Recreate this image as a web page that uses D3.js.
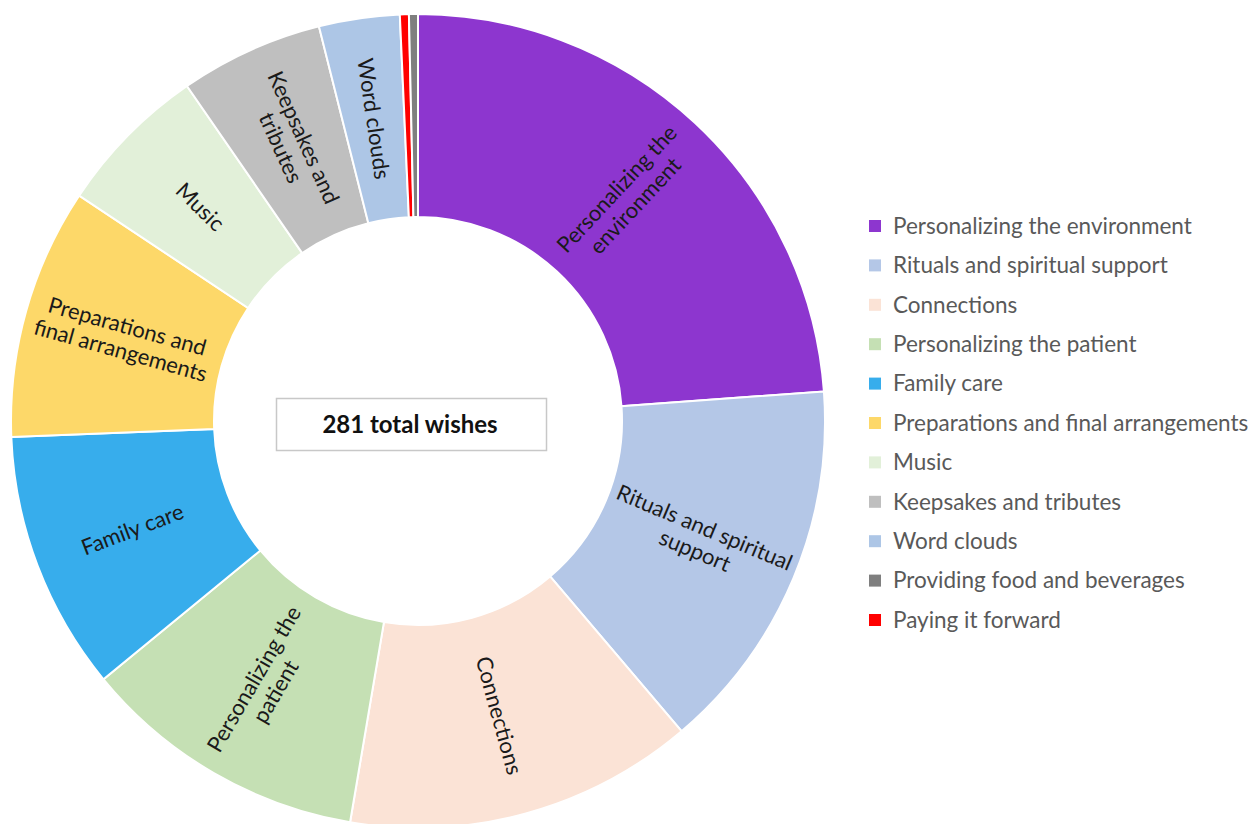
<!DOCTYPE html>
<html>
<head>
<meta charset="utf-8">
<script src="https://cdn.jsdelivr.net/npm/d3@7/dist/d3.min.js"></script>
<style>
  body { margin: 0; background: #fff; }
  svg { display: block; font-family: Lato, "Liberation Sans", sans-serif; }
</style>
</head>
<body>
<svg id="chart" width="1253" height="824"></svg>
<script>
// slices, in the order they run clockwise from 12 o'clock
const categories = [
  `Personalizing the environment`,
  `Rituals and spiritual support`,
  `Connections`,
  `Personalizing the patient`,
  `Family care`,
  `Preparations and final arrangements`,
  `Music`,
  `Keepsakes and tributes`,
  `Word clouds`,
  `Paying it forward`,
  `Providing food and beverages`
];
const wishes = [67, 42, 39, 32, 29, 28, 17, 16, 9, 1, 1];
const sliceColors = [
  `#8d36cf`, `#b4c7e7`, `#fbe3d6`, `#c5e0b4`, `#37adec`, `#fdd869`,
  `#e2f0d9`, `#bfbfbf`, `#adc6e6`, `#ff0000`, `#7f7f7f`
];
// wrapped labels inside the ring (none for the thin slices)
const sliceLabels = [
  [`Personalizing the`, `environment`],
  [`Rituals and spiritual`, `support`],
  [`Connections`],
  [`Personalizing the`, `patient`],
  [`Family care`],
  [`Preparations and`, `final arrangements`],
  [`Music`],
  [`Keepsakes and`, `tributes`],
  [`Word clouds`],
  [],
  []
];
const legendOrder = [
  `Personalizing the environment`,
  `Rituals and spiritual support`,
  `Connections`,
  `Personalizing the patient`,
  `Family care`,
  `Preparations and final arrangements`,
  `Music`,
  `Keepsakes and tributes`,
  `Word clouds`,
  `Providing food and beverages`,
  `Paying it forward`
];
const totalLabel = `${d3.sum(wishes)} total wishes`;

const svg = d3.select(`#chart`);
const cx = 418, cy = 421;
const outerR = 407, innerR = 204;

const color = d3.scaleOrdinal().domain(categories).range(sliceColors);

const pie = d3.pie().sort(null).value(d => d.value);
const arcs = pie(categories.map((c, i) => ({name: c, value: wishes[i], lines: sliceLabels[i]})));
const arc = d3.arc().innerRadius(innerR).outerRadius(outerR);

const g = svg.append(`g`).attr(`transform`, `translate(${cx},${cy})`);

g.selectAll(`path`)
  .data(arcs)
  .enter().append(`path`)
    .attr(`d`, arc)
    .attr(`fill`, d => color(d.data.name))
    .attr(`stroke`, `#fff`)
    .attr(`stroke-width`, 2);

// labels are turned along the radius, flipped on the left half
const lineH = 25;
g.selectAll(`text.slice`)
  .data(arcs.filter(d => d.data.lines.length))
  .enter().append(`text`)
    .attr(`class`, `slice`)
    .attr(`transform`, d => {
      const [x, y] = arc.centroid(d);
      const mid = (d.startAngle + d.endAngle) / 2 * 180 / Math.PI;
      const rot = mid < 180 ? mid - 90 : mid - 270;
      return `translate(${x},${y}) rotate(${rot})`;
    })
    .attr(`text-anchor`, `middle`)
    .attr(`font-size`, 22)
    .attr(`fill`, `#1a1a1a`)
    .each(function(d) {
      const n = d.data.lines.length;
      d3.select(this).selectAll(`tspan`)
        .data(d.data.lines)
        .enter().append(`tspan`)
          .attr(`x`, 0)
          .attr(`y`, (l, i) => (i - (n - 1) / 2) * lineH)
          .attr(`dy`, `0.35em`)
          .text(l => l);
    });

// centre box
svg.append(`rect`)
  .attr(`x`, 276.5).attr(`y`, 398.5)
  .attr(`width`, 270).attr(`height`, 52)
  .attr(`fill`, `#fff`)
  .attr(`stroke`, `#c8c8c8`)
  .attr(`stroke-width`, 1.5);
svg.append(`text`)
  .attr(`x`, 410).attr(`y`, 424.5)
  .attr(`dy`, `0.35em`)
  .attr(`text-anchor`, `middle`)
  .attr(`font-size`, 24)
  .attr(`font-weight`, `bold`)
  .attr(`fill`, `#111`)
  .text(totalLabel);

// legend
const legendY = d3.scalePoint().domain(legendOrder).range([226, 620]);
const legend = svg.append(`g`).selectAll(`g`)
  .data(legendOrder)
  .enter().append(`g`)
    .attr(`transform`, d => `translate(869,${legendY(d)})`);

legend.append(`rect`)
  .attr(`x`, 0).attr(`y`, -6)
  .attr(`width`, 12).attr(`height`, 12)
  .attr(`fill`, d => color(d));

legend.append(`text`)
  .attr(`x`, 24).attr(`dy`, `0.35em`)
  .attr(`font-size`, 22.5)
  .attr(`fill`, `#595959`)
  .text(d => d);
</script>
</body>
</html>
